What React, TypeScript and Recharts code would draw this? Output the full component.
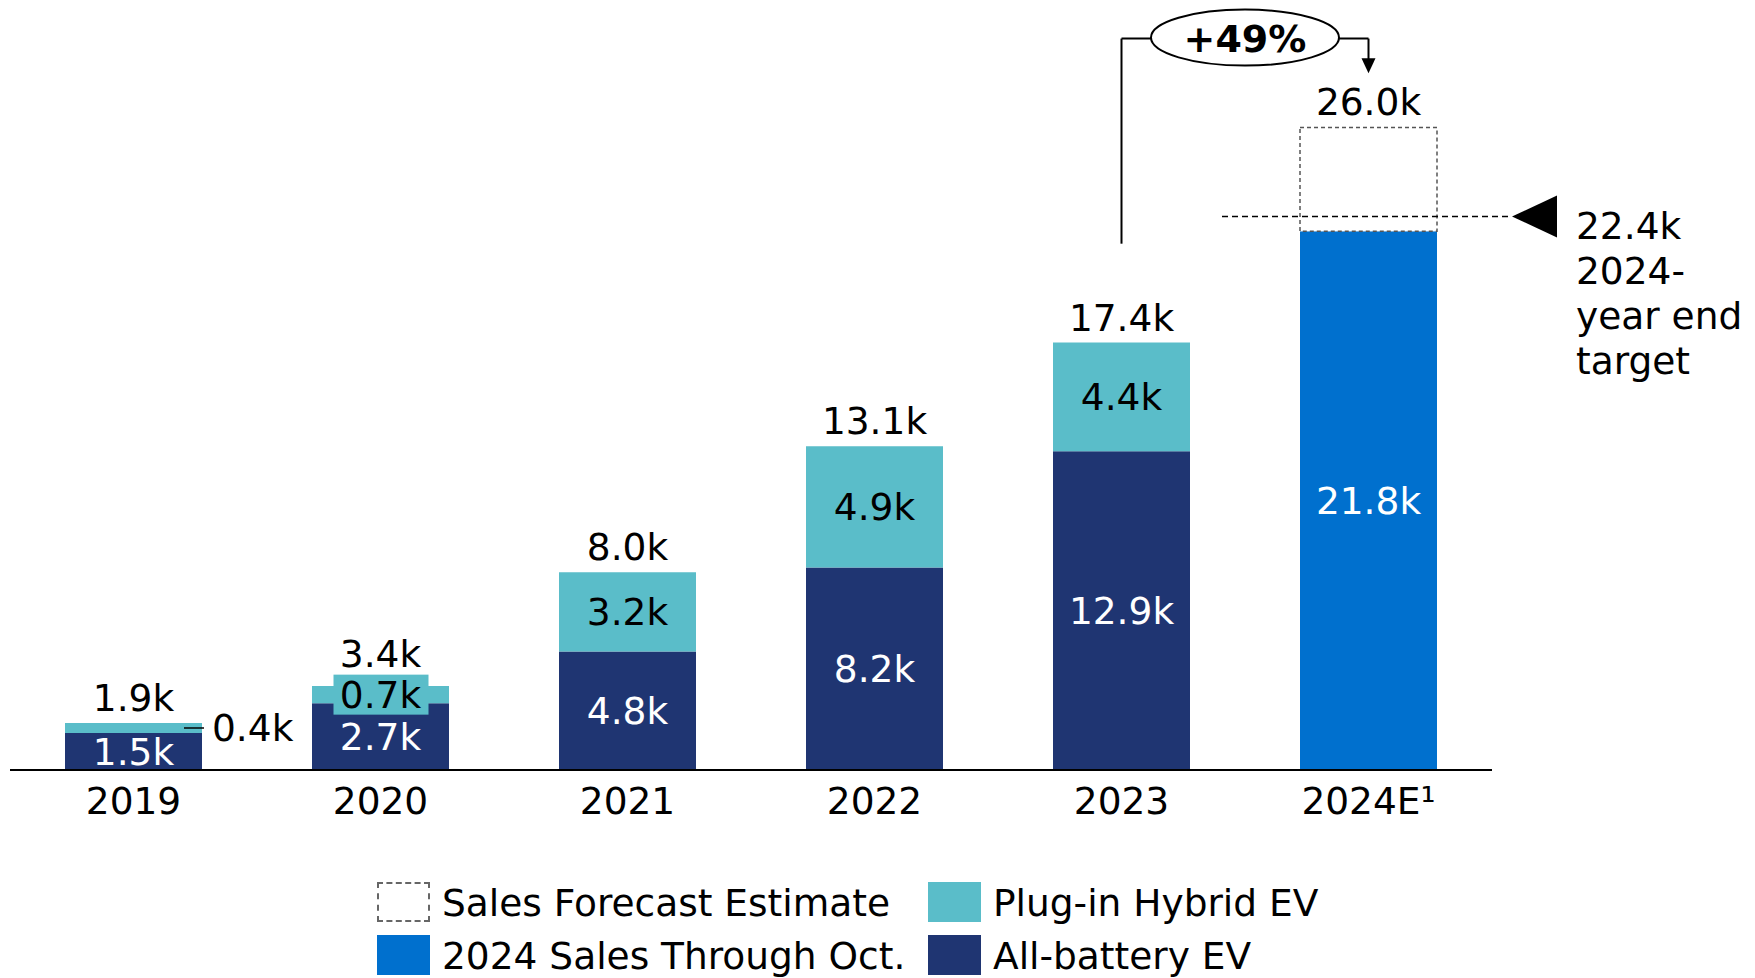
import { BarChart, Bar, XAxis, YAxis, LabelList, ReferenceLine, Legend } from "recharts";

const years = ["2019", "2020", "2021", "2022", "2023", "2024E"];
const tickLabels = ["2019", "2020", "2021", "2022", "2023", "2024E\u00b9"];
const allBattery = [1.5, 2.7, 4.8, 8.2, 12.9, 0];
const pluginHybrid = [0.4, 0.7, 3.2, 4.9, 4.4, 0];
const salesThroughOct = [0, 0, 0, 0, 0, 21.8];
const forecastRest = [0, 0, 0, 0, 0, 4.2];
const totals = [1.9, 3.4, 8.0, 13.1, 17.4, 26.0];
const target = 22.4;
const growth = "+49%";
const bracketTop = 29.6;
const bracketFrom = 21.3;
const arrowTip = 28.2;

const NAVY = "#1f3572";
const TEAL = "#5abdc9";
const BLUE = "#0070ce";
const FONT = "'DejaVu Sans', Verdana, sans-serif";
const FS = 37.5;

const rows = years.map((y, i) => ({
  year: y,
  bev: allBattery[i],
  phev: pluginHybrid[i],
  ytd: salesThroughOct[i],
  rest: forecastRest[i],
  total: totals[i],
}));

const fmt = (v: number) => `${v.toFixed(1)}k`;

const box = (p: any) => {
  const vb = p.viewBox ?? p;
  return { x: +vb.x, y: +vb.y, w: +vb.width, h: +vb.height };
};

const inside = (color: string) => (p: any) => {
  if (!p.value) return null;
  const { x, y, w, h } = box(p);
  return (
    <text x={x + w / 2} y={y + h / 2 + 13.5} textAnchor="middle" fontSize={FS} fontFamily={FONT} fill={color}>
      {fmt(p.value)}
    </text>
  );
};

const hybridLabel = (p: any) => {
  if (!p.value) return null;
  const { x, y, w, h } = box(p);
  const cy = y + h / 2;
  if (p.index === 0) {
    // small segment: label sits outside with a leader
    return (
      <g>
        <line x1={x + w - 18} x2={x + w + 2} y1={cy} y2={cy} stroke="#000" strokeWidth={1.5} />
        <text x={x + w + 10} y={cy + 13.5} fontSize={FS} fontFamily={FONT} fill="#000">{fmt(p.value)}</text>
      </g>
    );
  }
  if (h < 30) {
    return (
      <g>
        <rect x={x + w / 2 - 47} y={cy - 20} width={95} height={40} fill={TEAL} />
        <text x={x + w / 2} y={cy + 13.5} textAnchor="middle" fontSize={FS} fontFamily={FONT} fill="#000">{fmt(p.value)}</text>
      </g>
    );
  }
  return (
    <text x={x + w / 2} y={cy + 13.5} textAnchor="middle" fontSize={FS} fontFamily={FONT} fill="#000">{fmt(p.value)}</text>
  );
};

// total above the stack: on the hybrid segment for past years, on the forecast box for 2024
const totalLabel = (gap: number) => (p: any) => {
  if (p.value == null) return null;
  const { x, y, w, h } = box(p);
  if (!(h > 0)) return null;
  const lift = h < 30 && p.index === 1 ? 19 : gap;
  return (
    <text x={x + w / 2} y={y - lift} textAnchor="middle" fontSize={FS} fontFamily={FONT} fill="#000">
      {fmt(p.value)}
    </text>
  );
};

const Tick = (p: any) => {
  const i = years.indexOf(p.payload.value);
  return (
    <text x={p.x} y={p.y + 44} textAnchor="middle" fontSize={FS} fontFamily={FONT} fill="#000">
      {tickLabels[i]}
    </text>
  );
};

const targetShape = (p: any) => {
  const y = p.y1;
  const r = p.x2;
  return (
    <g>
      <line x1={r - 270} x2={r + 20} y1={y} y2={y} stroke="#000" strokeWidth={1.5} strokeDasharray="6 4" />
      <polygon points={`${r + 20},${y} ${r + 65},${y - 21} ${r + 65},${y + 21}`} fill="#000" />
      <text x={r + 84} y={y + 22} fontSize={FS} fontFamily={FONT} fill="#000">
        <tspan x={r + 84}>{fmt(target)}</tspan>
        <tspan x={r + 84} dy={45}>2024-</tspan>
        <tspan x={r + 84} dy={45}>year end</tspan>
        <tspan x={r + 84} dy={45}>target</tspan>
      </text>
    </g>
  );
};

const bracketShape = (p: any) => {
  const mx = (p.x1 + p.x2) / 2;
  const y = p.y1;
  return (
    <g>
      <line x1={p.x1} x2={p.x2} y1={y} y2={y} stroke="#000" strokeWidth={2} />
      <ellipse cx={mx} cy={y - 1} rx={94} ry={28} fill="#fff" stroke="#000" strokeWidth={2} />
      <text x={mx} y={y + 13} textAnchor="middle" fontSize={38} fontWeight="bold" fontFamily={FONT} fill="#000">
        {growth}
      </text>
    </g>
  );
};

const arrowShape = (p: any) => (
  <g>
    <line x1={p.x1} x2={p.x2} y1={p.y1} y2={p.y2 - 14} stroke="#000" strokeWidth={2} />
    <polygon points={`${p.x2 - 7},${p.y2 - 15} ${p.x2 + 7},${p.y2 - 15} ${p.x2},${p.y2}`} fill="#000" />
  </g>
);

const legendItems = [
  { label: "Sales Forecast Estimate", left: 0, top: 0, dashed: true, color: "#fff" },
  { label: "2024 Sales Through Oct.", left: 0, top: 53, dashed: false, color: BLUE },
  { label: "Plug-in Hybrid EV", left: 551, top: 0, dashed: false, color: TEAL },
  { label: "All-battery EV", left: 551, top: 53, dashed: false, color: NAVY },
];

const LegendBox = () => (
  <div style={{ position: "relative", width: 900, height: 96, fontFamily: FONT, fontSize: FS, color: "#000" }}>
    {legendItems.map((it) => (
      <div key={it.label} style={{ position: "absolute", left: it.left, top: it.top, display: "flex", alignItems: "flex-start" }}>
        <div
          style={{
            width: 53,
            height: 40,
            boxSizing: "border-box",
            background: it.color,
            border: it.dashed ? "2px dashed #666" : "none",
          }}
        />
        <span style={{ marginLeft: 12, lineHeight: "40px", position: "relative", top: 1, whiteSpace: "nowrap" }}>{it.label}</span>
      </div>
    ))}
  </div>
);

export default function App() {
  return (
    <div style={{ position: "absolute", left: 0, top: 0, width: 1755, height: 978, background: "#fff" }}>
      <BarChart width={1755} height={978} data={rows} margin={{ top: 4, right: 263, bottom: 148, left: 10 }} barSize={137}>
        <XAxis
          dataKey="year"
          height={60}
          tickLine={false}
          tickSize={0}
          tickMargin={0}
          axisLine={{ stroke: "#000", strokeWidth: 2 }}
          tick={<Tick />}
          interval={0}
        />
        <YAxis hide domain={[0, 31]} type="number" allowDataOverflow />
        <Bar dataKey="bev" stackId="s" fill={NAVY} isAnimationActive={false}>
          <LabelList dataKey="bev" content={inside("#fff")} />
        </Bar>
        <Bar dataKey="phev" stackId="s" fill={TEAL} isAnimationActive={false}>
          <LabelList dataKey="phev" content={hybridLabel} />
          <LabelList dataKey="total" content={totalLabel(12)} />
        </Bar>
        <Bar dataKey="ytd" stackId="s" fill={BLUE} isAnimationActive={false}>
          <LabelList dataKey="ytd" content={inside("#fff")} />
        </Bar>
        <Bar dataKey="rest" stackId="s" fill="#fff" stroke="#555" strokeWidth={1.5} strokeDasharray="4 3" isAnimationActive={false}>
          <LabelList dataKey="total" content={totalLabel(13)} />
        </Bar>
        <ReferenceLine y={target} ifOverflow="visible" shape={targetShape} />
        <ReferenceLine
          segment={[{ x: "2023", y: bracketFrom }, { x: "2023", y: bracketTop }]}
          ifOverflow="visible"
          stroke="#000"
          strokeWidth={2}
        />
        <ReferenceLine
          segment={[{ x: "2024E", y: bracketTop }, { x: "2024E", y: arrowTip }]}
          ifOverflow="visible"
          shape={arrowShape}
        />
        <ReferenceLine
          segment={[{ x: "2023", y: bracketTop }, { x: "2024E", y: bracketTop }]}
          ifOverflow="visible"
          shape={bracketShape}
        />
        <Legend
          layout="horizontal"
          verticalAlign="middle"
          align="center"
          content={<LegendBox />}
          wrapperStyle={{ position: "absolute", left: 377, top: 882, width: 900, height: 96 }}
        />
      </BarChart>
    </div>
  );
}
